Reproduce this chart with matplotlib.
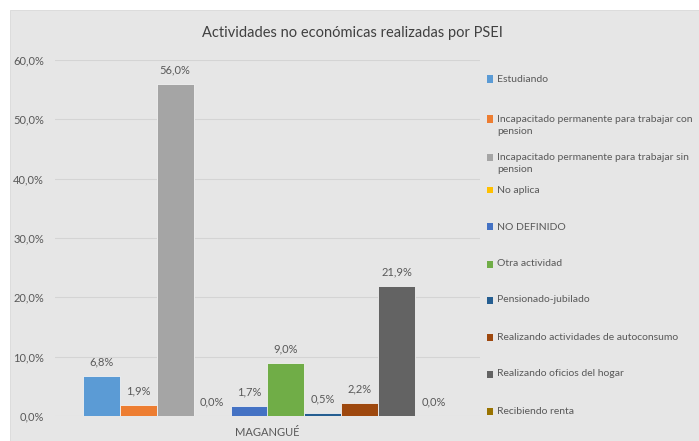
import numpy as np
import matplotlib.pyplot as plt
from matplotlib.patches import Rectangle

# Data
categories = ['MAGANGUÉ']
series = ['Estudiando',
          'Incapacitado permanente para trabajar con pension',
          'Incapacitado permanente para trabajar sin pension',
          'No aplica',
          'NO DEFINIDO',
          'Otra actividad',
          'Pensionado-jubilado',
          'Realizando actividades de autoconsumo',
          'Realizando oficios del hogar',
          'Recibiendo renta']
legend_lines = ['Estudiando',
                'Incapacitado permanente para trabajar con\npension',
                'Incapacitado permanente para trabajar sin\npension',
                'No aplica',
                'NO DEFINIDO',
                'Otra actividad',
                'Pensionado-jubilado',
                'Realizando actividades de autoconsumo',
                'Realizando oficios del hogar',
                'Recibiendo renta']
values = [6.8, 1.9, 56.0, 0.0, 1.7, 9.0, 0.5, 2.2, 21.9, 0.0]
colors = ['#5B9BD5', '#ED7D31', '#A5A5A5', '#FFC000', '#4472C4',
          '#70AD47', '#255E91', '#9E480E', '#636363', '#997300']
yticks = [0, 10, 20, 30, 40, 50, 60]

plt.rcParams['font.family'] = ['Lato', 'DejaVu Sans']
txt = '#595959'
bg = '#e6e6e6'

W, H = 699, 441
fig = plt.figure(figsize=(W / 100, H / 100), dpi=100, facecolor='white')
# gray chart area behind everything
fig.patches.append(Rectangle((10 / W, 0), 1 - 10 / W, 1 - 10 / H,
                             transform=fig.transFigure, facecolor=bg,
                             edgecolor='#d8d8d8', lw=0.6, zorder=-5))

ax = fig.add_axes([55 / W, 25 / H, 425 / W, (416 - 60) / H])
ax.set_facecolor(bg)

n = len(values)
bw = 0.87 / n
x0 = -0.435 + bw / 2
for i, (v, c) in enumerate(zip(values, colors)):
    x = x0 + i * bw
    ax.bar(x, v, width=bw, color=c, edgecolor='#f2f2f2', lw=0.6, zorder=3)
    ax.annotate(f'{v:.1f}%'.replace('.', ','), (x, v), xytext=(0, 6),
                textcoords='offset points', ha='center', va='bottom',
                fontsize=8, color=txt)

ax.set_xlim(-0.5, 0.5)
ax.set_ylim(0, 60)
ax.set_yticks(yticks)
ax.set_yticklabels([f'{t:.1f}%'.replace('.', ',') for t in yticks],
                   fontsize=8, color=txt)
ax.set_xticks([0])
ax.set_xticklabels(categories, fontsize=8, color=txt)
ax.tick_params(axis='y', length=0, pad=8)
ax.tick_params(axis='x', length=0, pad=8)
ax.grid(axis='y', color='#d4d4d4', lw=0.8, zorder=0)
for s in ax.spines.values():
    s.set_visible(False)

fig.text(352 / W, 1 - 33 / H, 'Actividades no económicas realizadas por PSEI',
         ha='center', va='center', fontsize=10.5, color='#404040')

# legend
leg_y = [79, 119, 157, 190, 227, 264, 300, 337, 374, 411]
for yy, lab, c in zip(leg_y, legend_lines, colors):
    fig.patches.append(Rectangle((487 / W, 1 - (yy + 3.5) / H), 6 / W, 7 / H,
                                 transform=fig.transFigure, facecolor=c,
                                 edgecolor='none', zorder=2))
    fig.text(497 / W, 1 - (yy - 4.5) / H, lab, ha='left', va='top',
             fontsize=7.5, color=txt, linespacing=1.5)

fig.savefig('out.png', dpi=100, facecolor=fig.get_facecolor())
